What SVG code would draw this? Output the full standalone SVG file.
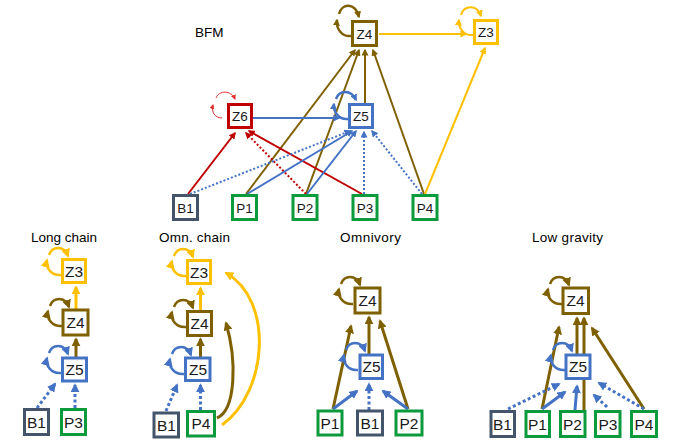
<svg xmlns="http://www.w3.org/2000/svg" width="677" height="446" viewBox="0 0 677 446">
<style>
.bx{fill:#fff;stroke-width:3}
.br{stroke:#7F6000}.go{stroke:#FFC000}.bl{stroke:#4472C4}.re{stroke:#C00000}.gr{stroke:#0B9A3C}.nv{stroke:#44546A}
.t{font-family:"Liberation Sans",Arial,sans-serif;text-anchor:middle;fill:#1a1a1a}
.ts{font-size:13.5px}.tb{font-size:15.5px}
.lab{font-family:"Liberation Sans",Arial,sans-serif;font-size:13.5px;fill:#000}
.e{fill:none;stroke-width:2}
.E{fill:none;stroke-width:3}
.d{stroke-dasharray:2 2}
.D{stroke-dasharray:3 2.5}
.lp{fill:none;stroke-width:2.5}
</style>
<defs>
<marker id="mBr" viewBox="0 0 10 10" refX="8" refY="5" markerWidth="7" markerHeight="7" markerUnits="userSpaceOnUse" orient="auto"><path d="M0,0L10,5L0,10z" fill="#7F6000"/></marker>
<marker id="mGo" viewBox="0 0 10 10" refX="8" refY="5" markerWidth="7" markerHeight="7" markerUnits="userSpaceOnUse" orient="auto"><path d="M0,0L10,5L0,10z" fill="#FFC000"/></marker>
<marker id="mBl" viewBox="0 0 10 10" refX="8" refY="5" markerWidth="7" markerHeight="7" markerUnits="userSpaceOnUse" orient="auto"><path d="M0,0L10,5L0,10z" fill="#4472C4"/></marker>
<marker id="mRe" viewBox="0 0 10 10" refX="8" refY="5" markerWidth="7" markerHeight="7" markerUnits="userSpaceOnUse" orient="auto"><path d="M0,0L10,5L0,10z" fill="#C00000"/></marker>
<marker id="sRe" viewBox="0 0 10 10" refX="8" refY="5" markerWidth="5" markerHeight="5" markerUnits="userSpaceOnUse" orient="auto"><path d="M0,0L10,5L0,10z" fill="#E03030"/></marker>
<marker id="MBr" viewBox="0 0 10 10" refX="8" refY="5" markerWidth="9" markerHeight="9" markerUnits="userSpaceOnUse" orient="auto"><path d="M0,0L10,5L0,10z" fill="#7F6000"/></marker>
<marker id="MGo" viewBox="0 0 10 10" refX="8" refY="5" markerWidth="9" markerHeight="9" markerUnits="userSpaceOnUse" orient="auto"><path d="M0,0L10,5L0,10z" fill="#FFC000"/></marker>
<marker id="MBl" viewBox="0 0 10 10" refX="8" refY="5" markerWidth="9" markerHeight="9" markerUnits="userSpaceOnUse" orient="auto"><path d="M0,0L10,5L0,10z" fill="#4472C4"/></marker>
</defs>
<rect width="677" height="446" fill="#fff"/>
<g id="labels">
<text class="lab" x="195" y="37">BFM</text>
<text class="lab" x="31" y="242" textLength="66">Long chain</text>
<text class="lab" x="159" y="242" textLength="71">Omn. chain</text>
<text class="lab" x="340" y="242" textLength="61">Omnivory</text>
<text class="lab" x="532" y="242" textLength="71">Low gravity</text>
</g>
<g id="connectors">
<!-- BFM -->
<path class="e go" d="M379,34L466,34" marker-end="url(#mGo)"/>
<path class="e br" d="M365,103L365,50" marker-end="url(#mBr)"/>
<path class="e br" d="M246,194L355,50" marker-end="url(#mBr)"/>
<path class="e br" d="M306,194L359,50" marker-end="url(#mBr)"/>
<path class="e br" d="M424,194L373,50" marker-end="url(#mBr)"/>
<path class="e go" d="M425,194L485,48" marker-end="url(#mGo)"/>
<path class="e bl" d="M253,118L339,118" marker-end="url(#mBl)"/>
<path class="e re" d="M188,194L235,133" marker-end="url(#mRe)"/>
<path class="e re d" d="M306,194L246,133" marker-end="url(#mRe)"/>
<path class="e re" d="M362,194L249,131" marker-end="url(#mRe)"/>
<path class="e bl d" d="M190,194L350,131" marker-end="url(#mBl)"/>
<path class="e bl" d="M247,194L352,131" marker-end="url(#mBl)"/>
<path class="e bl" d="M307,194L356,131" marker-end="url(#mBl)"/>
<path class="e bl d" d="M364,194L364,132" marker-end="url(#mBl)"/>
<path class="e bl d" d="M422,194L372,131" marker-end="url(#mBl)"/>
<path class="lp br" d="M351,36C342,37 336,29 337,20" marker-end="url(#mBr)"/>
<path class="lp br" d="M339,14C342,3 355,2 359,17" marker-end="url(#mBr)"/>
<path class="e go" d="M473,35C464,36 458,28 459,20" marker-end="url(#mGo)"/>
<path class="e go" d="M461,15C464,5 477,4 481,16" marker-end="url(#mGo)"/>
<path class="lp bl" d="M348,119C339,120 333,112 334,104" marker-end="url(#mBl)"/>
<path class="lp bl" d="M336,99C339,90 351,89 356,100" marker-end="url(#mBl)"/>
<path fill="none" stroke="#E03030" stroke-width="1" d="M222,118C215,118 211,112 213,105" marker-end="url(#sRe)"/>
<path fill="none" stroke="#E03030" stroke-width="1" d="M216,98C219,90 231,90 235,99" marker-end="url(#sRe)"/>
<!-- Long chain -->
<path class="E go" d="M76,309L76,287" marker-end="url(#MGo)"/>
<path class="E br" d="M76,357L76,339" marker-end="url(#MBr)"/>
<path class="E bl D" d="M37,408L55,384" marker-end="url(#MBl)"/>
<path class="E bl D" d="M75,408L75,385" marker-end="url(#MBl)"/>
<path class="lp go" d="M61,275C52,276 45,268 47,260" marker-end="url(#MGo)"/>
<path class="lp go" d="M49,255C52,246 64,245 68,256" marker-end="url(#MGo)"/>
<path class="lp br" d="M62,326C53,327 46,319 48,311" marker-end="url(#MBr)"/>
<path class="lp br" d="M50,306C53,297 65,296 69,307" marker-end="url(#MBr)"/>
<path class="lp bl" d="M61,373C52,374 45,366 47,358" marker-end="url(#MBl)"/>
<path class="lp bl" d="M49,353C52,344 64,343 68,354" marker-end="url(#MBl)"/>
<!-- Omn chain -->
<path class="E go" d="M200.5,311L200.5,288" marker-end="url(#MGo)"/>
<path class="E br" d="M200.5,357L200.5,339" marker-end="url(#MBr)"/>
<path class="E bl D" d="M166,411L177,385" marker-end="url(#MBl)"/>
<path class="E bl D" d="M200.5,410L200.5,385" marker-end="url(#MBl)"/>
<path class="E br" d="M217,418C236,410 237,360 226,323" marker-end="url(#MBr)"/>
<path class="E go" d="M222,425C268,392 274,300 226,273" marker-end="url(#MGo)"/>
<path class="lp go" d="M186,276C177,277 170,269 172,261" marker-end="url(#MGo)"/>
<path class="lp go" d="M174,256C177,247 189,246 193,257" marker-end="url(#MGo)"/>
<path class="lp br" d="M186,327C177,328 170,320 172,312" marker-end="url(#MBr)"/>
<path class="lp br" d="M174,307C177,298 189,297 193,308" marker-end="url(#MBr)"/>
<path class="lp bl" d="M184,374C175,375 168,367 170,359" marker-end="url(#MBl)"/>
<path class="lp bl" d="M172,354C175,345 187,344 191,355" marker-end="url(#MBl)"/>
<!-- Omnivory -->
<path class="E br" d="M333,409L351,326" marker-end="url(#MBr)"/>
<path class="E br" d="M369,354L369,317" marker-end="url(#MBr)"/>
<path class="E br" d="M408,409L380,321" marker-end="url(#MBr)"/>
<path class="E bl" d="M333,409L357,391" marker-end="url(#MBl)"/>
<path class="E bl D" d="M369,410L369,384" marker-end="url(#MBl)"/>
<path class="E bl" d="M408,409L383,391" marker-end="url(#MBl)"/>
<path class="lp br" d="M353,304C344,305 337,297 339,289" marker-end="url(#MBr)"/>
<path class="lp br" d="M341,284C344,275 356,274 360,285" marker-end="url(#MBr)"/>
<path class="lp bl" d="M358,370C349,371 342,363 344,355" marker-end="url(#MBl)"/>
<path class="lp bl" d="M346,350C349,341 361,340 365,351" marker-end="url(#MBl)"/>
<!-- Low gravity -->
<path class="E br" d="M542,409L559,327" marker-end="url(#MBr)"/>
<path class="E br" d="M577,354L577,318" marker-end="url(#MBr)"/>
<path class="E br" d="M584,410L584,318" marker-end="url(#MBr)"/>
<path class="E br" d="M644,409L592,328" marker-end="url(#MBr)"/>
<path class="E bl D" d="M508,409L559,384" marker-end="url(#MBl)"/>
<path class="E bl" d="M542,409L565,392" marker-end="url(#MBl)"/>
<path class="E bl" d="M575,410L577,386" marker-end="url(#MBl)"/>
<path class="E bl D" d="M607,407L594,395" marker-end="url(#MBl)"/>
<path class="E bl D" d="M644,409L599,383" marker-end="url(#MBl)"/>
<path class="lp br" d="M562,304C553,305 546,297 548,289" marker-end="url(#MBr)"/>
<path class="lp br" d="M550,284C553,275 565,274 569,285" marker-end="url(#MBr)"/>
<path class="lp bl" d="M565,370C556,371 549,363 551,355" marker-end="url(#MBl)"/>
<path class="lp bl" d="M553,350C556,341 568,340 572,351" marker-end="url(#MBl)"/>
</g>
<!-- BFM nodes -->
<g id="bfm-Z4"><rect class="bx br" x="352.5" y="21.5" width="24" height="24"/><text class="t ts" x="364.5" y="38.5">Z4</text></g>
<g id="bfm-Z3"><rect class="bx go" x="474.5" y="20.5" width="23" height="23"/><text class="t ts" x="486" y="37">Z3</text></g>
<g id="bfm-Z6"><rect class="bx re" x="228.5" y="104.5" width="23" height="23"/><text class="t ts" x="240" y="121">Z6</text></g>
<g id="bfm-Z5"><rect class="bx bl" x="349.5" y="104.5" width="23" height="23"/><text class="t ts" x="361" y="121">Z5</text></g>
<g id="bfm-B1"><rect class="bx nv" x="173.5" y="195.5" width="24" height="24"/><text class="t ts" x="185.5" y="212.5">B1</text></g>
<g id="bfm-P1"><rect class="bx gr" x="232.5" y="195.5" width="24" height="24"/><text class="t ts" x="244.5" y="212.5">P1</text></g>
<g id="bfm-P2"><rect class="bx gr" x="293" y="195.5" width="24" height="24"/><text class="t ts" x="305" y="212.5">P2</text></g>
<g id="bfm-P3"><rect class="bx gr" x="353" y="195.5" width="24" height="24"/><text class="t ts" x="365" y="212.5">P3</text></g>
<g id="bfm-P4"><rect class="bx gr" x="413" y="195.5" width="24" height="24"/><text class="t ts" x="425" y="212.5">P4</text></g>
<!-- Long chain nodes -->
<g id="lc-Z3"><rect class="bx go" x="62.5" y="259.5" width="23" height="23"/><text class="t tb" x="74" y="276.5">Z3</text></g>
<g id="lc-Z4"><rect class="bx br" x="63" y="310" width="25" height="25"/><text class="t tb" x="75.5" y="328">Z4</text></g>
<g id="lc-Z5"><rect class="bx bl" x="62.5" y="358" width="24" height="23"/><text class="t tb" x="74.5" y="375">Z5</text></g>
<g id="lc-B1"><rect class="bx nv" x="24.5" y="409.5" width="24" height="25"/><text class="t tb" x="36.5" y="427.5">B1</text></g>
<g id="lc-P3"><rect class="bx gr" x="61.5" y="409.5" width="24" height="25"/><text class="t tb" x="73.5" y="427.5">P3</text></g>
<!-- Omn chain nodes -->
<g id="oc-Z3"><rect class="bx go" x="187.5" y="260.5" width="23" height="23"/><text class="t tb" x="199" y="277.5">Z3</text></g>
<g id="oc-Z4"><rect class="bx br" x="187.5" y="311.5" width="24" height="24"/><text class="t tb" x="199.5" y="329">Z4</text></g>
<g id="oc-Z5"><rect class="bx bl" x="185.5" y="358" width="24.5" height="22.5"/><text class="t tb" x="198" y="375">Z5</text></g>
<g id="oc-B1"><rect class="bx nv" x="154" y="413" width="24.5" height="24"/><text class="t tb" x="166.5" y="430.5">B1</text></g>
<g id="oc-P4"><rect class="bx gr" x="187.5" y="411.5" width="27" height="24.5"/><text class="t tb" x="201" y="429">P4</text></g>
<!-- Omnivory nodes -->
<g id="om-Z4"><rect class="bx br" x="355" y="288" width="25" height="25"/><text class="t tb" x="367.5" y="306">Z4</text></g>
<g id="om-Z5"><rect class="bx bl" x="360" y="355" width="22.5" height="23.5"/><text class="t tb" x="371.5" y="372">Z5</text></g>
<g id="om-P1"><rect class="bx gr" x="318" y="411" width="24" height="24"/><text class="t tb" x="330" y="428.5">P1</text></g>
<g id="om-B1"><rect class="bx nv" x="357.5" y="411" width="25" height="24"/><text class="t tb" x="370" y="428.5">B1</text></g>
<g id="om-P2"><rect class="bx gr" x="396" y="411" width="26" height="24"/><text class="t tb" x="409" y="428.5">P2</text></g>
<!-- Low gravity nodes -->
<g id="lg-Z4"><rect class="bx br" x="563" y="288" width="25.5" height="25.5"/><text class="t tb" x="575.5" y="306">Z4</text></g>
<g id="lg-Z5"><rect class="bx bl" x="566" y="355" width="24" height="23.5"/><text class="t tb" x="578" y="372">Z5</text></g>
<g id="lg-B1"><rect class="bx nv" x="491" y="411.5" width="23.5" height="25"/><text class="t tb" x="502.5" y="429.5">B1</text></g>
<g id="lg-P1"><rect class="bx gr" x="526" y="411.5" width="23.5" height="25"/><text class="t tb" x="537.5" y="429.5">P1</text></g>
<g id="lg-P2"><rect class="bx gr" x="560.5" y="411.5" width="24.5" height="25"/><text class="t tb" x="572.5" y="429.5">P2</text></g>
<g id="lg-P3"><rect class="bx gr" x="595.5" y="411.5" width="24.5" height="25"/><text class="t tb" x="608" y="429.5">P3</text></g>
<g id="lg-P4"><rect class="bx gr" x="631.5" y="411.5" width="25" height="25"/><text class="t tb" x="644" y="429.5">P4</text></g>
</svg>
